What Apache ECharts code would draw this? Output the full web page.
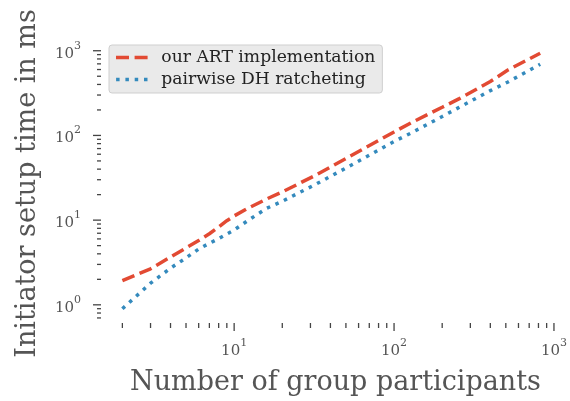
<!DOCTYPE html>
<html>
<head>
<meta charset="utf-8">
<script src="https://cdn.jsdelivr.net/npm/echarts@6/dist/echarts.min.js"></script>
<style>
html,body{margin:0;padding:0;background:#fff;}
#chart{width:570px;height:401px;}
</style>
</head>
<body>
<div id="chart"></div>
<script>
// ---- data ----
const participants = [2, 3, 4, 5, 6, 7, 8, 9, 10, 12, 16, 20, 32, 50, 64, 100, 128, 200, 256, 400, 512, 820];
const artTimes = [1.93, 2.66, 3.67, 4.69, 5.73, 6.9, 8.3, 9.84, 11.2, 13.6, 17.8, 21.5, 33.6, 53.3, 69, 110, 141, 215, 272, 433, 588, 935];
const dhTimes = [0.90, 1.80, 2.71, 3.58, 4.56, 5.32, 6.05, 6.85, 7.65, 9.7, 13.8, 16.7, 26.2, 41.2, 53.3, 84.8, 107, 167, 215, 338, 425, 692];
const seriesNames = ['our ART implementation', 'pairwise DH ratcheting'];
const xMajorTicks = [10, 100, 1000];
const xMinorTicks = [2, 3, 4, 5, 6, 7, 8, 9, 20, 30, 40, 50, 60, 70, 80, 90, 200, 300, 400, 500, 600, 700, 800, 900];
const yMajorTicks = [1, 10, 100, 1000];
const yMinorTicks = [0.7, 0.8, 0.9, 2, 3, 4, 5, 6, 7, 8, 9, 20, 30, 40, 50, 60, 70, 80, 90, 200, 300, 400, 500, 600, 700, 800, 900];
const xTitle = 'Number of group participants';
const yTitle = 'Initiator setup time in ms';
const xRange = [1.47, 1122];
const yRange = [0.61, 1493];

const SERIF = 'DejaVu Serif';
const TICK_COLOR = '#444';
const RED = '#E24A33';
const BLUE = '#348ABD';
// legend glyphs: dashed and dotted line samples
const dashIcon = 'path://M0,0h13v3.5h-13zM18.6,0h13v3.5h-13z';
const dotIcon = 'path://M0,0h3.5v3.5h-3.5zM9.3,0h3.5v3.5h-3.5zM18.6,0h3.5v3.5h-3.5zM27.9,0h3.5v3.5h-3.5z';

function pairs(xs, ys) { return xs.map((x, i) => [x, ys[i]]); }

function powLabel(v) {
  const e = Math.log10(v);
  if (Math.abs(e - Math.round(e)) > 1e-6) return '';
  return '{b|10}{s|' + Math.round(e) + '}';
}
const labelRich = {
  b: {fontFamily: SERIF, fontSize: 15, color: '#555', verticalAlign: 'bottom'},
  s: {fontFamily: SERIF, fontSize: 11, color: '#555', verticalAlign: 'top'}
};

function tickSeries(values, axis, len) {
  return {
    type: 'custom', silent: true, clip: false, z: 1,
    data: values.map(v => axis === 'x' ? [v, yRange[0]] : [xRange[0], v]),
    encode: {x: 0, y: 1},
    renderItem(params, api) {
      const p = api.coord([api.value(0), api.value(1)]);
      const shape = axis === 'x'
        ? {x1: p[0], y1: p[1], x2: p[0], y2: p[1] + len}
        : {x1: p[0] - len, y1: p[1], x2: p[0], y2: p[1]};
      return {type: 'line', shape, style: {stroke: TICK_COLOR, lineWidth: 1.3}};
    }
  };
}

const chart = echarts.init(document.getElementById('chart'), null, {renderer: 'canvas'});
chart.setOption({
  animation: false,
  backgroundColor: '#fff',
  grid: {left: 101, right: 5, top: 36, bottom: 76, containLabel: false},
  legend: {
    data: [
      {name: seriesNames[0], icon: dashIcon},
      {name: seriesNames[1], icon: dotIcon}
    ],
    orient: 'vertical',
    left: 109, top: 45,
    backgroundColor: '#eaeaea',
    borderColor: '#cfcfcf',
    borderWidth: 1,
    borderRadius: 3,
    padding: [4, 7, 5, 7],
    itemWidth: 33,
    itemHeight: 3.5,
    itemGap: 5,
    textStyle: {fontFamily: SERIF, fontSize: 17.2, color: '#222', padding: [0, 0, 0, 8]}
  },
  xAxis: {
    type: 'log', logBase: 10, min: xRange[0], max: xRange[1],
    name: xTitle, nameLocation: 'middle', nameGap: 46,
    nameTextStyle: {fontFamily: SERIF, fontSize: 27, color: '#555', padding: [0, 0, 0, 8]},
    axisLine: {show: false}, axisTick: {show: false}, splitLine: {show: false},
    axisLabel: {formatter: powLabel, rich: labelRich, lineHeight: 21, margin: 15, fontFamily: SERIF}
  },
  yAxis: {
    type: 'log', logBase: 10, min: yRange[0], max: yRange[1],
    name: yTitle, nameLocation: 'middle', nameGap: 60, nameRotate: 90,
    nameTextStyle: {fontFamily: SERIF, fontSize: 27, color: '#555', padding: [0, 8, 0, 0]},
    axisLine: {show: false}, axisTick: {show: false}, splitLine: {show: false},
    axisLabel: {formatter: powLabel, rich: labelRich, lineHeight: 21, margin: 20, fontFamily: SERIF}
  },
  series: [
    {
      name: seriesNames[0], type: 'line', data: pairs(participants, artTimes),
      symbol: 'none', showSymbol: false, color: RED, z: 3,
      lineStyle: {color: RED, width: 3.5, type: [13, 5.6], cap: 'butt'}
    },
    {
      name: seriesNames[1], type: 'line', data: pairs(participants, dhTimes),
      symbol: 'none', showSymbol: false, color: BLUE, z: 3,
      lineStyle: {color: BLUE, width: 3.5, type: [3.5, 5.8], cap: 'butt'}
    },
    tickSeries(xMajorTicks, 'x', 8),
    tickSeries(xMinorTicks, 'x', 5),
    tickSeries(yMajorTicks, 'y', 8),
    tickSeries(yMinorTicks, 'y', 4)
  ]
});
</script>
</body>
</html>
